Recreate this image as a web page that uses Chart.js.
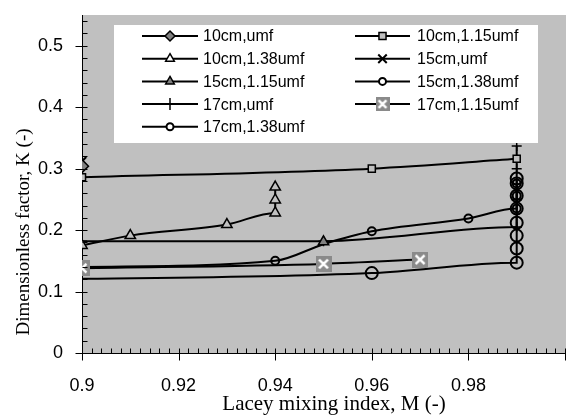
<!DOCTYPE html>
<html>
<head>
<meta charset="utf-8">
<script src="https://cdn.jsdelivr.net/npm/chart.js@4/dist/chart.umd.min.js"></script>
<style>
  html, body { margin: 0; padding: 0; background: #fff; }
  #wrap { width: 566px; height: 419px; }
</style>
</head>
<body>
<div id="wrap"><canvas id="chart" width="566" height="419"></canvas></div>
<script>
// Lacey mixing index (M) against dimensionless factor (K)
const seriesNames = ['10cm,umf', '10cm,1.15umf', '10cm,1.38umf', '15cm,umf', '15cm,1.15umf',
  '15cm,1.38umf', '17cm,umf', '17cm,1.15umf', '17cm,1.38umf'];

const m10umf = [0.9];
const k10umf = [0.304];
const m10_115 = [0.9, 0.96, 0.99];
const k10_115 = [0.286, 0.300, 0.316];
const m10_138 = [0.9, 0.91, 0.93, 0.94, 0.94, 0.94];
const k10_138 = [0.175, 0.191, 0.209, 0.228, 0.249, 0.270];
const m15umf = [0.9];
const k15umf = [0.312];
const m15_115 = [0.95];
const k15_115 = [0.181];
const m15_138 = [0.9, 0.94, 0.95, 0.96, 0.98, 0.99, 0.99, 0.99];
const k15_138 = [0.140, 0.150, 0.177, 0.198, 0.219, 0.235, 0.256, 0.276];
const m17umf = [0.9, 0.95, 0.99, 0.99, 0.99, 0.99];
const k17umf = [0.182, 0.182, 0.205, 0.250, 0.300, 0.337];
const m17_115 = [0.9, 0.95, 0.97];
const k17_115 = [0.138, 0.145, 0.152];
const m17_138 = [0.88, 0.96, 0.99, 0.99, 0.99, 0.99, 0.99, 0.99, 0.99, 0.99];
const k17_138 = [0.119, 0.130, 0.147, 0.170, 0.191, 0.212, 0.235, 0.256, 0.276, 0.284];

const xTickValues = [0.9, 0.92, 0.94, 0.96, 0.98];
const xTickLabels = ['0.9', '0.92', '0.94', '0.96', '0.98'];
const yTickValues = [0, 0.1, 0.2, 0.3, 0.4, 0.5];
const yTickLabels = ['0', '0.1', '0.2', '0.3', '0.4', '0.5'];

const xTitle = 'Lacey mixing index, M (-)';
const yTitle = 'Dimensionless factor, K (-)';

const SANS = '"Liberation Sans", Arial, sans-serif';
const SERIF = '"Liberation Serif", "Times New Roman", serif';
const PLOT_BG = '#c0c0c0';

const pts = (xs, ys) => xs.map((x, i) => ({ x: x, y: ys[i] }));

// grey square with a white cross, like the Excel marker
function boxMarker(size) {
  const c = document.createElement('canvas');
  c.width = size;
  c.height = size;
  const g = c.getContext('2d');
  g.fillStyle = '#8a8a8a';
  g.fillRect(0, 0, size, size);
  g.strokeStyle = '#fff';
  g.lineWidth = 2.5;
  const p = size * 0.22;
  g.beginPath();
  g.moveTo(p, p); g.lineTo(size - p, size - p);
  g.moveTo(size - p, p); g.lineTo(p, size - p);
  g.stroke();
  return c;
}
const boxBig = boxMarker(16);
const boxSmall = boxMarker(14);

function series(i, xs, ys, style, radius, fill, extra) {
  return Object.assign({
    label: seriesNames[i],
    data: pts(xs, ys),
    borderColor: '#000',
    borderWidth: 2,
    pointStyle: style,
    pointRadius: radius,
    pointBackgroundColor: fill,
    pointBorderColor: '#000',
    pointBorderWidth: 1.5,
    cubicInterpolationMode: 'monotone',
    legendRadius: 4,
    legendFill: fill
  }, extra || {});
}

const datasets = [
  series(0, m10umf, k10umf, 'rectRot', 6.5, '#808080', { legendRadius: 5 }),
  series(1, m10_115, k10_115, 'rect', 5, PLOT_BG, { legendRadius: 5 }),
  series(2, m10_138, k10_138, 'triangle', 6, PLOT_BG, { legendFill: '#fff', legendRadius: 5 }),
  series(3, m15umf, k15umf, 'crossRot', 6, '#000', { pointBorderWidth: 2, legendRadius: 6 }),
  series(4, m15_115, k15_115, 'triangle', 6, '#808080', { legendRadius: 5 }),
  series(5, m15_138, k15_138, 'circle', 4, 'rgba(0,0,0,0)', {
    pointBorderWidth: 2, legendFill: '#fff', legendRadius: 3.5,
    pointRadius: ctx => (ctx.dataIndex === 2 ? 0 : 4)
  }),
  series(6, m17umf, k17umf, 'cross', 5, '#000', { pointBorderWidth: 1.5, legendRadius: 6 }),
  series(7, m17_115, k17_115, boxBig, 8, '#808080', { order: -1, legendStyle: boxSmall }),
  series(8, m17_138, k17_138, 'circle', 6, 'rgba(0,0,0,0)', { pointBorderWidth: 2, clip: 0, legendFill: '#fff', legendRadius: 3.5 })
];

const plotBackground = {
  id: 'plotBackground',
  beforeDraw(chart) {
    const { ctx, chartArea: a } = chart;
    ctx.save();
    ctx.fillStyle = '#fff';
    ctx.fillRect(0, 0, chart.width, chart.height);
    ctx.fillStyle = PLOT_BG;
    ctx.fillRect(a.left, a.top, chart.width - a.left, a.bottom - a.top);
    ctx.restore();
  }
};

// Excel style ticks: majors cross the axis, minors sit inside
const axisTicks = {
  id: 'axisTicks',
  afterDraw(chart) {
    const { ctx, scales } = chart;
    const ax = Math.round(scales.x.getPixelForValue(0.9)) + 0.5;
    const ay = Math.round(scales.y.getPixelForValue(0)) + 0.5;
    ctx.save();
    ctx.strokeStyle = '#000';
    ctx.lineWidth = 1;
    ctx.beginPath();
    for (let i = 0; i <= 54; i += 2) {
      const py = Math.round(scales.y.getPixelForValue(i / 100)) + 0.5;
      const major = i % 10 === 0;
      ctx.moveTo(major ? ax - 7 : ax, py);
      ctx.lineTo(ax + 5, py);
    }
    for (let j = 900; j <= 1000; j += 2) {
      const px = Math.round(scales.x.getPixelForValue(j / 1000)) + 0.5;
      const major = (j - 900) % 20 === 0;
      ctx.moveTo(px, ay - 5);
      ctx.lineTo(px, major ? ay + 7 : ay);
    }
    ctx.stroke();

    ctx.fillStyle = '#000';
    ctx.textAlign = 'center';
    ctx.textBaseline = 'middle';
    ctx.font = '21px ' + SERIF;
    ctx.fillText(xTitle, 334, 404);
    ctx.font = '19px ' + SERIF;
    ctx.translate(24, 232);
    ctx.rotate(-Math.PI / 2);
    ctx.fillText(yTitle, 0, 0);
    ctx.restore();
  }
};

const boxLegend = {
  id: 'boxLegend',
  afterDraw(chart) {
    const ctx = chart.ctx;
    ctx.save();
    ctx.fillStyle = '#fff';
    ctx.fillRect(114, 25, 424, 118);
    chart.data.datasets.forEach((ds, i) => {
      const row = Math.floor(i / 2);
      const col = i % 2;
      const x0 = col ? 355 : 142;
      const x1 = col ? 410 : 198;
      const y = 36 + row * 22.7;
      ctx.strokeStyle = '#000';
      ctx.lineWidth = 2;
      ctx.beginPath();
      ctx.moveTo(x0, y);
      ctx.lineTo(x1, y);
      ctx.stroke();
      ctx.fillStyle = ds.legendFill;
      ctx.strokeStyle = '#000';
      ctx.lineWidth = ds.pointBorderWidth;
      Chart.helpers.drawPoint(ctx, {
        pointStyle: ds.legendStyle || ds.pointStyle,
        radius: ds.legendRadius,
        rotation: 0,
        borderWidth: ds.pointBorderWidth
      }, (x0 + x1) / 2, y);
      ctx.fillStyle = '#000';
      ctx.font = '16px ' + SANS;
      ctx.textAlign = 'left';
      ctx.textBaseline = 'middle';
      ctx.fillText(ds.label, col ? 417 : 203, y + 1);
    });
    ctx.restore();
  }
};

const near = (v, list) => list.findIndex(t => Math.abs(t - v) < 1e-6);

new Chart(document.getElementById('chart').getContext('2d'), {
  type: 'line',
  data: { datasets: datasets },
  options: {
    responsive: false,
    animation: false,
    events: [],
    layout: { autoPadding: false, padding: { top: 15, right: 1, left: 0, bottom: 0 } },
    plugins: { legend: { display: false }, tooltip: { enabled: false } },
    scales: {
      x: {
        type: 'linear',
        min: 0.9,
        max: 1.0,
        afterFit: s => { s.height = 66; s.paddingLeft = 0; s.paddingRight = 0; },
        grid: { display: false, drawTicks: false },
        border: { display: true, color: '#000', width: 1 },
        ticks: {
          stepSize: 0.02,
          padding: 0,
          color: '#000',
          maxRotation: 0,
          autoSkip: false,
          font: { family: SANS, size: 18, lineHeight: 3.65 },
          callback: v => { const k = near(v, xTickValues); return k < 0 ? '' : xTickLabels[k]; }
        }
      },
      y: {
        type: 'linear',
        min: 0,
        max: 0.55,
        afterFit: s => { s.width = 82; s.paddingTop = 0; s.paddingBottom = 0; },
        grid: { display: false, drawTicks: false },
        border: { display: true, color: '#000', width: 1 },
        ticks: {
          stepSize: 0.1,
          padding: 19,
          color: '#000',
          autoSkip: false,
          font: { family: SANS, size: 18 },
          callback: v => { const k = near(v, yTickValues); return k < 0 ? '' : yTickLabels[k]; }
        }
      }
    }
  },
  plugins: [plotBackground, axisTicks, boxLegend]
});
</script>
</body>
</html>
